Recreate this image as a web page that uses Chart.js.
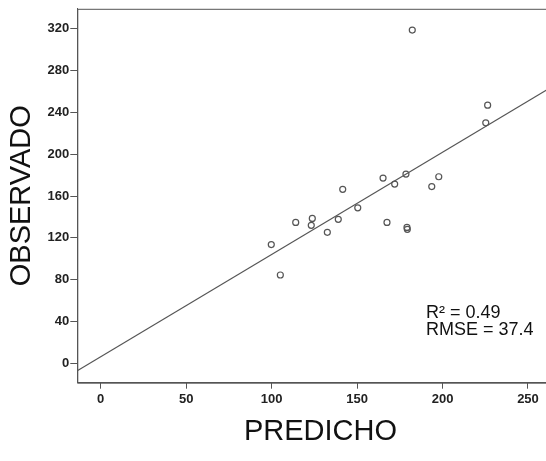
<!DOCTYPE html>
<html>
<head>
<meta charset="utf-8">
<title>Observado vs Predicho</title>
<script src="https://cdn.jsdelivr.net/npm/chart.js@4.4.1/dist/chart.umd.min.js"></script>
<style>
  html, body { margin: 0; padding: 0; background: #fff; overflow: hidden; }
  #wrap { width: 570px; height: 461px; }
</style>
</head>
<body>
<div id="wrap"><canvas id="scatterChart" width="570" height="461"></canvas></div>
<script>
// valores predichos y observados
const predicho = [182.3, 226.4, 225.3, 141.6, 165.2, 172.0, 178.6, 193.7, 197.8, 150.4,
                  139.0, 123.8, 123.2, 132.6, 167.5, 179.2, 179.4, 114.1, 99.8, 105.1];
const observado = [318.4, 246.7, 229.9, 166.4, 177.1, 171.4, 180.9, 169.0, 178.4, 148.7,
                   137.7, 138.6, 132.0, 125.3, 134.8, 130.0, 128.2, 134.8, 113.6, 84.6];

// recta de ajuste: y = intercepto + pendiente * x
const ajuste = { intercepto: 6.6, pendiente: 0.976 };
const estadisticos = ['R\u00B2 = 0.49', 'RMSE = 37.4'];

const xTicks = [0, 50, 100, 150, 200, 250];
const yTicks = [0, 40, 80, 120, 160, 200, 240, 280, 320];
const xRange = [-13.7, 270.9];
const yRange = [-18.2, 338.7];

const puntos = predicho.map((x, i) => ({ x: x, y: observado[i] }));
const recta = xRange.map(x => ({ x: x, y: ajuste.intercepto + ajuste.pendiente * x }));

const fuente = "'Liberation Sans', Arial, sans-serif";
const gris = '#555';

// marco del gráfico y texto con los estadísticos
const marco = {
  id: 'marco',
  afterDraw(chart) {
    const { ctx, chartArea: a } = chart;
    ctx.save();
    ctx.strokeStyle = gris;
    ctx.lineWidth = 1;
    ctx.strokeRect(a.left + 0.5, a.top + 0.5, a.right - a.left, a.bottom - a.top);
    ctx.fillStyle = '#111';
    ctx.font = '18px ' + fuente;
    ctx.textBaseline = 'alphabetic';
    ctx.fillText(estadisticos[0], 426, 318);
    ctx.fillText(estadisticos[1], 426, 335);
    ctx.restore();
  }
};

const ctx = document.getElementById('scatterChart').getContext('2d');
const chart = new Chart(ctx, {
  type: 'scatter',
  data: {
    datasets: [{
      label: 'Observado',
      data: puntos,
      pointRadius: 3,
      pointBorderWidth: 1.2,
      pointBorderColor: gris,
      pointBackgroundColor: 'rgba(255,255,255,0)',
      order: 1
    }, {
      label: 'Ajuste',
      data: recta,
      showLine: true,
      pointRadius: 0,
      borderColor: gris,
      borderWidth: 1.2,
      order: 2
    }]
  },
  options: {
    responsive: false,
    animation: false,
    devicePixelRatio: 1,
    layout: { padding: { top: 6.3, right: 6.3, bottom: 0, left: 0 } },
    plugins: { legend: { display: false }, tooltip: { enabled: false } },
    scales: {
      x: {
        type: 'linear',
        min: xRange[0],
        max: xRange[1],
        afterBuildTicks: s => { s.ticks = xTicks.map(v => ({ value: v })); },
        afterFit: s => { s.height = 78.3; },
        grid: { drawOnChartArea: false, drawTicks: true, tickLength: 6, tickColor: gris, color: gris },
        border: { display: true, color: gris },
        ticks: { padding: 3, color: '#222', font: { family: fuente, size: 13, weight: 'bold' } },
        title: {
          display: true,
          text: 'PREDICHO',
          color: '#111',
          font: { family: fuente, size: 29 },
          padding: { top: 0, bottom: 11.6 }
        }
      },
      y: {
        type: 'linear',
        min: yRange[0],
        max: yRange[1],
        afterBuildTicks: s => { s.ticks = yTicks.map(v => ({ value: v })); },
        afterFit: s => { s.width = 77.3; },
        grid: { drawOnChartArea: false, drawTicks: true, tickLength: 7, tickColor: gris, color: gris },
        border: { display: true, color: gris },
        ticks: { padding: 1, color: '#222', font: { family: fuente, size: 13, weight: 'bold' } },
        title: {
          display: true,
          text: 'OBSERVADO',
          color: '#111',
          font: { family: fuente, size: 29 },
          padding: { top: 4.6, bottom: 0 }
        }
      }
    }
  },
  plugins: [marco]
});
</script>
</body>
</html>
